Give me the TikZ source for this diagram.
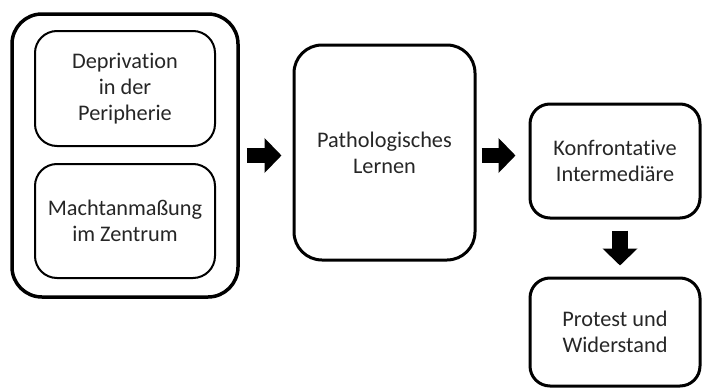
\documentclass[tikz,border=0pt]{standalone}
\usepackage{fontspec}
\setmainfont{Carlito}[Ligatures={NoCommon}]
\usetikzlibrary{arrows.meta}
\begin{document}
\begin{tikzpicture}[x=1pt,y=-1pt,
  every node/.style={font=\fontsize{22.3}{26}\selectfont, text=black!85, align=center, inner sep=0pt},
  outerbox/.style={draw=black, line width=3.5pt, rounded corners=30pt, rectangle},
  innerbox/.style={draw=black, line width=2pt, rounded corners=22pt, rectangle},
  mainbox/.style={draw=black, line width=3pt, rounded corners=28pt, rectangle},
  sidebox/.style={draw=black, line width=3pt, rounded corners=20pt, rectangle},
  blockarrow/.style={line width=15.5pt, draw=black, -{Triangle[length=17pt,width=34pt]}}
]
\useasboundingbox (0,0) rectangle (704,388);

\node[outerbox, minimum width=226pt, minimum height=283pt] (outer) at (125,155.5) {};
\node[innerbox, minimum width=180pt, minimum height=115pt] (dep) at (125,88.5)
  {Deprivation\\in der\\Peripherie};
\node[innerbox, minimum width=180pt, minimum height=114pt] (macht) at (125,221)
  {Machtanmaßung\\im Zentrum};

\node[mainbox, minimum width=181pt, minimum height=215pt] (patho) at (384.5,152.5)
  {Pathologisches\\Lernen};

\node[sidebox, minimum width=170pt, minimum height=114pt] (konf) at (615,161)
  {Konfrontative\\Intermediäre};
\node[sidebox, minimum width=170pt, minimum height=108pt] (prot) at (615,332)
  {Protest und\\Widerstand};

\coordinate (a1) at (outer.east);
\draw[blockarrow, shorten <=7pt, shorten >=11pt] (a1) -- (patho.west |- a1);
\coordinate (a2) at ([yshift=-3pt]patho.east);
\draw[blockarrow, shorten <=5pt, shorten >=13pt] (a2) -- (konf.west |- a2);
\coordinate (a3) at ([xshift=5pt]konf.south);
\draw[blockarrow, shorten <=11pt, shorten >=11pt] (a3) -- (prot.north -| a3);
\end{tikzpicture}
\end{document}
